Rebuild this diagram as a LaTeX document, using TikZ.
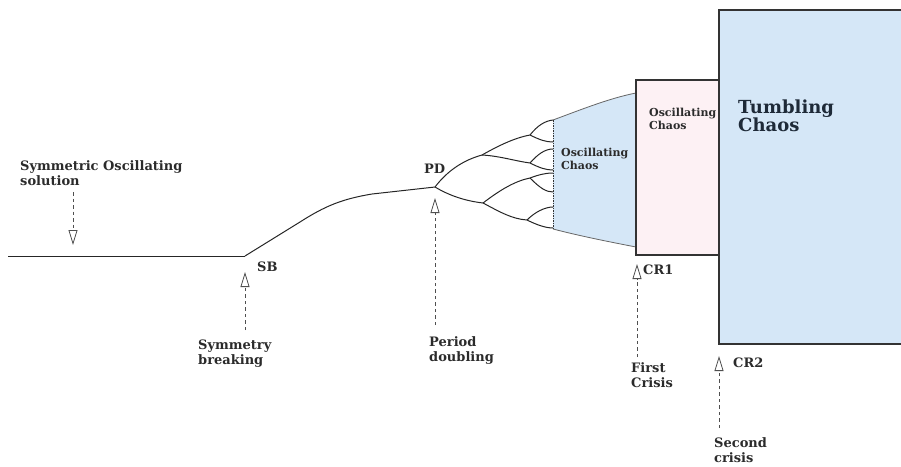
\documentclass[tikz,border=0pt]{standalone}
\usepackage{fontspec}
\setmainfont{DejaVu Serif}
\usetikzlibrary{arrows.meta}
\definecolor{chaosblue}{HTML}{D5E7F7}
\definecolor{chaospink}{HTML}{FDF1F4}
\definecolor{txt}{HTML}{2B2B2B}
\definecolor{bigtxt}{HTML}{1E2A38}
\definecolor{arrgray}{HTML}{4F4F4F}
\begin{document}
\begin{tikzpicture}[x=1pt,y=-1pt,
  lbl/.style={font=\bfseries\fontsize{13}{15}\selectfont, text=txt, inner sep=0pt, anchor=base west, align=left},
  boxlbl/.style={font=\bfseries\fontsize{11}{13}\selectfont, text=txt, inner sep=0pt, anchor=base west, align=left},
  biglbl/.style={font=\bfseries\fontsize{18}{18}\selectfont, text=bigtxt, inner sep=0pt, anchor=base west, align=left},
  marker/.style={draw=arrgray, line width=0.8pt, dash pattern=on 3.5pt off 3pt,
    -{Triangle[open,length=15pt,width=9pt,fill=white,line width=0.8pt]}},
  branch/.style={draw=black!85, line width=1pt},
  edge/.style={draw=black!80, line width=1.3pt}
]
\useasboundingbox (0,0) rectangle (901,466);

% regions
\coordinate (t1) at (553,120);
\coordinate (t2) at (636,93);
\coordinate (b2) at (636,247);
\coordinate (b1) at (553,229);
\fill[chaosblue] (t1) .. controls (580,110) and (610,98) .. (t2) -- (b2)
   .. controls (610,242) and (580,236) .. (b1) -- cycle;
\draw[black!60, line width=0.8pt] (t1) .. controls (580,110) and (610,98) .. (t2);
\draw[black!60, line width=0.8pt] (b1) .. controls (580,236) and (610,242) .. (b2);
\draw[black!80, line width=0.7pt, dash pattern=on 1.5pt off 1pt] (t1) -- (b1);

\filldraw[fill=chaospink, edge] (636,80) rectangle (719,255);
\fill[chaosblue] (719,10) rectangle (901,344);
\draw[edge, line width=1.5pt] (901,10) -- (719,10) -- (719,344) -- (901,344);

% branches
\coordinate (SB) at (245,256);
\coordinate (PD) at (435,187);
\draw[branch] (8,256) -- (SB);
\draw[branch] (SB) -- (300,222) .. controls (325,206) and (342,199) .. (372,194) -- (PD);
\coordinate (U) at (482,155);
\coordinate (L) at (483,203);
\coordinate (UU) at (530,135);
\coordinate (UL) at (530,163);
\coordinate (LU) at (530,178);
\coordinate (LL) at (527,220);
\draw[branch] (PD) .. controls (448,170) and (464,160) .. (U);
\draw[branch] (PD) .. controls (450,196) and (466,201) .. (L);
\draw[branch] (U) .. controls (498,146) and (514,138) .. (UU);
\draw[branch] (U) .. controls (500,156) and (515,161) .. (UL);
\draw[branch] (UU) .. controls (538,125) and (545,121) .. (553,120);
\draw[branch] (UU) .. controls (540,140) and (546,142) .. (553,142);
\draw[branch] (UL) .. controls (538,154) and (545,149) .. (553,149);
\draw[branch] (UL) .. controls (540,168) and (546,170) .. (553,170);
\draw[branch] (L) .. controls (500,190) and (515,181) .. (LU);
\draw[branch] (L) .. controls (500,212) and (512,219) .. (LL);
\draw[branch] (LU) .. controls (538,175) and (545,173) .. (553,173);
\draw[branch] (LU) .. controls (540,188) and (546,192) .. (553,192);
\draw[branch] (LL) .. controls (535,212) and (545,207) .. (553,207);
\draw[branch] (LL) .. controls (537,225) and (546,228) .. (553,228);

% markers
\coordinate (m1s) at (73,192);  \coordinate (m1t) at (73,245);
\coordinate (m2s) at (245,330); \coordinate (m2t) at (245,272);
\coordinate (m3s) at (435,325); \coordinate (m3t) at (435,198);
\coordinate (m4s) at (637,357); \coordinate (m4t) at (637,264);
\coordinate (m5s) at (719,428); \coordinate (m5t) at (719,356);
\draw[marker] (m1s) -- (m1t);
\draw[marker] (m2s) -- (m2t);
\draw[marker] (m3s) -- (m3t);
\draw[marker] (m4s) -- (m4t);
\draw[marker] (m5s) -- (m5t);

% labels (base anchor = baseline of the last line)
\node[lbl] (sym) at (20,185) {Symmetric Oscillating\\solution};
\node[lbl] (sb) at (257,271) {SB};
\node[lbl] (sbt) at (198,364) {Symmetry\\breaking};
\node[lbl] (pd) at (424,173) {PD};
\node[lbl] (pdt) at (429,361) {Period\\doubling};
\node[lbl] (cr1) at (643,274) {CR1};
\node[lbl] (cr1t) at (631,387) {First\\Crisis};
\node[lbl] (cr2) at (733,367) {CR2};
\node[lbl] (cr2t) at (714,462) {Second\\crisis};
\node[boxlbl] (oc1) at (561,169) {Oscillating\\Chaos};
\node[boxlbl] (oc2) at (649,129) {Oscillating\\Chaos};
\node[biglbl] (tc) at (738,131) {Tumbling\\Chaos};
\end{tikzpicture}
\end{document}
